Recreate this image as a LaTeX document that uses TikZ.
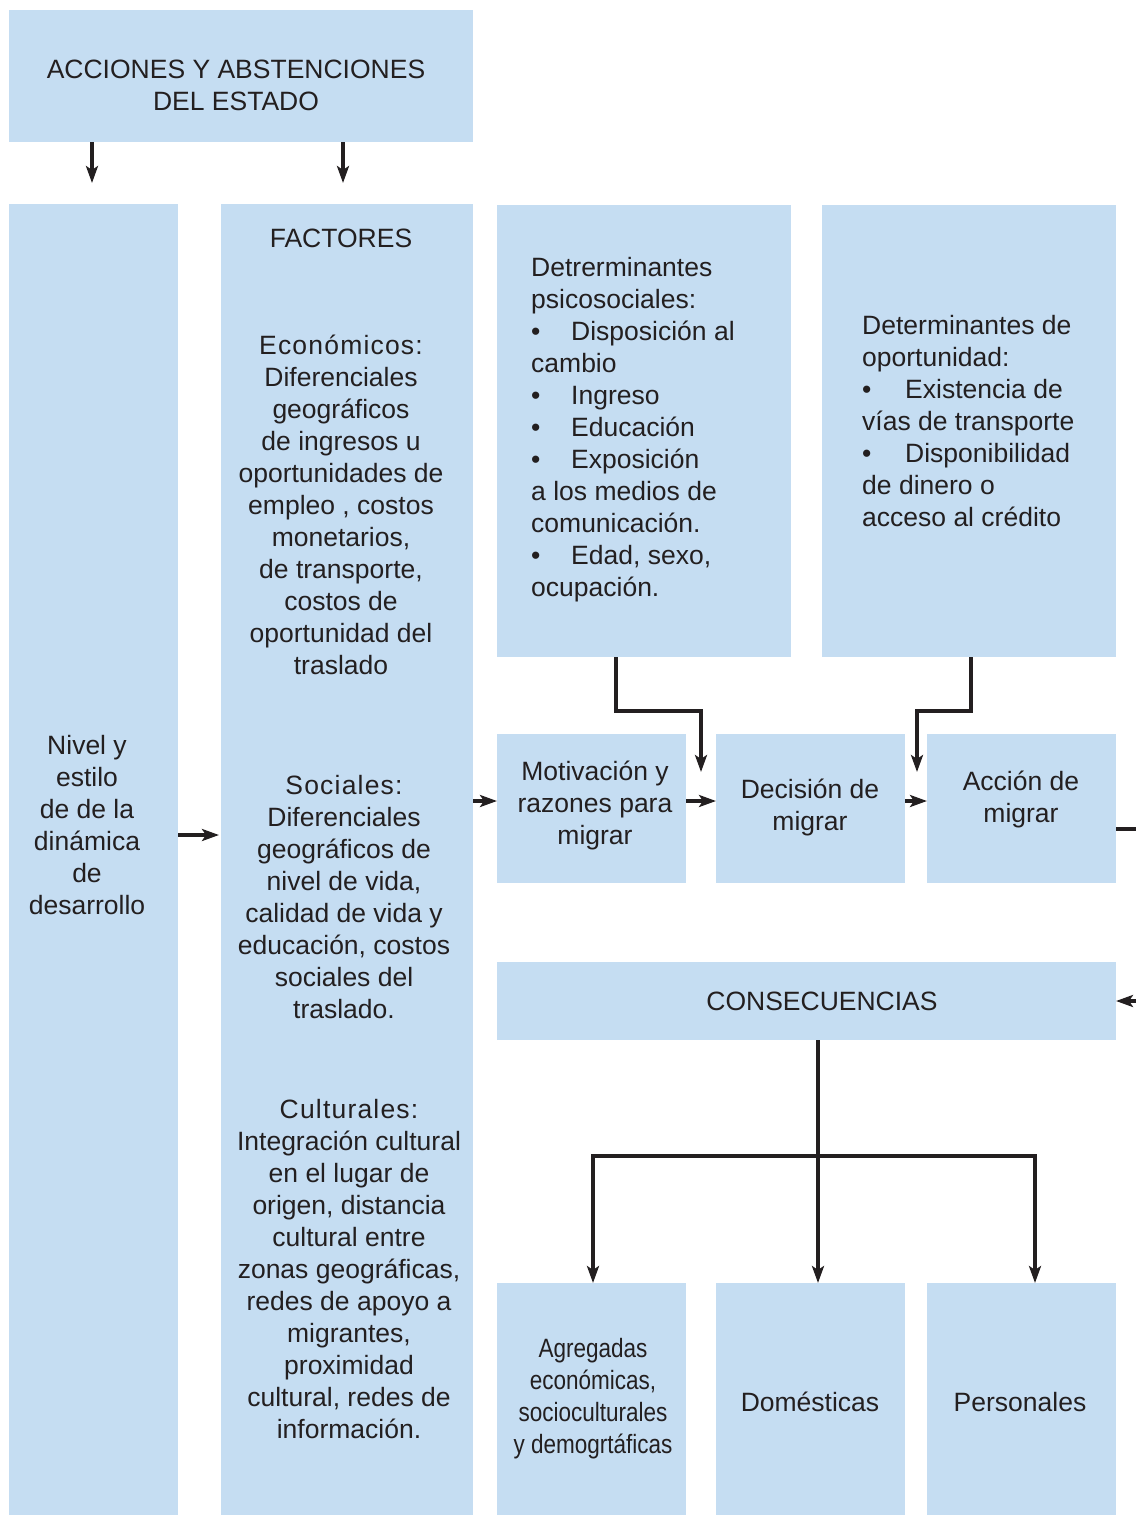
\documentclass[tikz,border=0pt]{standalone}
\usepackage{fontspec}
\setmainfont{Liberation Sans}
\newfontfamily\narrowfont[FakeStretch=0.85]{Liberation Sans}
\usetikzlibrary{arrows.meta,calc}
\definecolor{boxblue}{RGB}{197,221,242}
\definecolor{ink}{RGB}{35,31,32}
\newcommand{\bulA}{\makebox[40pt][l]{•}}
\newcommand{\bulB}{\makebox[43pt][l]{•}}
\newcommand{\hd}[1]{{\addfontfeatures{LetterSpace=4.5}#1}}
\begin{document}
\begin{tikzpicture}[x=1pt,y=-1pt,
  bx/.style={fill=boxblue,draw=none,anchor=north west,inner sep=0,outer sep=0},
  txt/.style={text=ink,font=\fontsize{26.5}{32}\selectfont,align=center,inner sep=0},
  ltxt/.style={txt,align=left,anchor=west},
  ln/.style={draw=ink,line width=3.2pt},
  arr/.style={ln,-{Stealth[length=17pt,width=12pt,inset=4pt]}}]
\useasboundingbox (0,0) rectangle (1135,1515);
% boxes
\node[bx,minimum width=464,minimum height=132] (title) at (9,10) {};
\node[bx,minimum width=169,minimum height=1320] (nivel) at (9,204) {};
\node[bx,minimum width=252,minimum height=1320] (factores) at (221,204) {};
\node[bx,minimum width=294,minimum height=452] (psico) at (497,205) {};
\node[bx,minimum width=294,minimum height=452] (oport) at (822,205) {};
\node[bx,minimum width=189,minimum height=149] (motiv) at (497,734) {};
\node[bx,minimum width=189,minimum height=149] (decis) at (716,734) {};
\node[bx,minimum width=189,minimum height=149] (accion) at (927,734) {};
\node[bx,minimum width=619,minimum height=78] (consec) at (497,962) {};
\node[bx,minimum width=189,minimum height=240] (agr) at (497,1283) {};
\node[bx,minimum width=189,minimum height=240] (dom) at (716,1283) {};
\node[bx,minimum width=189,minimum height=240] (pers) at (927,1283) {};
% texts
\node[txt] (titleT) at (236,85) {ACCIONES Y ABSTENCIONES\\DEL ESTADO};
\node[txt] (nivelT) at (87,825) {Nivel y\\estilo\\de de la\\dinámica\\de\\desarrollo};
\node[txt] (factT) at (341,238) {FACTORES};
\node[txt] (econT) at (341,505) {\hd{Económicos:}\\Diferenciales\\geográficos\\de ingresos u\\oportunidades de\\empleo , costos\\monetarios,\\de transporte,\\costos de\\oportunidad del\\traslado};
\node[txt] (socT) at (344,897) {\hd{Sociales:}\\Diferenciales\\geográficos de\\nivel de vida,\\calidad de vida y\\educación, costos\\sociales del\\traslado.};
\node[txt] (culT) at (349,1269) {\hd{Culturales:}\\Integración cultural\\en el lugar de\\origen, distancia\\cultural entre\\zonas geográficas,\\redes de apoyo a\\migrantes,\\proximidad\\cultural, redes de\\información.};
\node[ltxt] (psicoT) at (531,430) {Detrerminantes\\psicosociales:\\\bulA Disposición al\\cambio\\\bulA Ingreso\\\bulA Educación\\\bulA Exposición\\a los medios de\\comunicación.\\\bulA Edad, sexo,\\ocupación.};
\node[ltxt] (oportT) at (862,421) {Determinantes de\\oportunidad:\\\bulB Existencia de\\vías de transporte\\\bulB Disponibilidad\\de dinero o\\acceso al crédito};
\node[txt] (motivT) at (595,805) {Motivación y\\razones para\\migrar};
\node[txt] (decisT) at (810,807) {Decisión de\\migrar};
\node[txt] (accionT) at (1021,799) {Acción de\\migrar};
\node[txt] (consecT) at (822,1001) {CONSECUENCIAS};
\node[txt,font=\narrowfont\fontsize{26.5}{32}\selectfont] (agrT) at (593,1399) {Agregadas\\económicas,\\socioculturales\\y demogrtáficas};
\node[txt] (domT) at (810,1402) {Domésticas};
\node[txt] (persT) at (1020,1402) {Personales};
% helper coordinates
\coordinate (c1) at (343,183);
\coordinate (ny) at (0,835);
\coordinate (my) at (0,801);
\coordinate (p1) at (616,711);
\coordinate (pe) at (701,772);
\coordinate (o1) at (971,711);
\coordinate (oe) at (917,772);
\coordinate (ay) at (0,829);
\coordinate (cy) at (0,1001);
\coordinate (rx) at (1160,829);
\coordinate (tr) at (818,1156);
\coordinate (ax) at (593,0);
\coordinate (px) at (1035,0);
% connectors
\draw[arr,shorten >=21pt] (title.south -| 92,0) -- (nivel.north -| 92,0);
\draw[arr] (title.south -| c1) -- (c1);
\draw[arr,shorten >=2pt] (nivel.east |- ny) -- (factores.west |- ny);
\draw[arr] (factores.east |- my) -- (motiv.west |- my);
\draw[arr] (motiv.east |- my) -- (decis.west |- my);
\draw[arr] (decis.east |- my) -- (accion.west |- my);
\draw[arr] (psico.south -| p1) -- (p1) -| (pe);
\draw[arr] (oport.south -| o1) -- (o1) -| (oe);
\draw[arr] (accion.east |- ay) -- (rx) |- (consec.east |- cy);
\draw[arr] (consec.south -| tr) -- (dom.north -| tr);
\draw[arr] (tr) -| (agr.north -| ax);
\draw[arr] (tr) -| (pers.north -| px);
\end{tikzpicture}
\end{document}
